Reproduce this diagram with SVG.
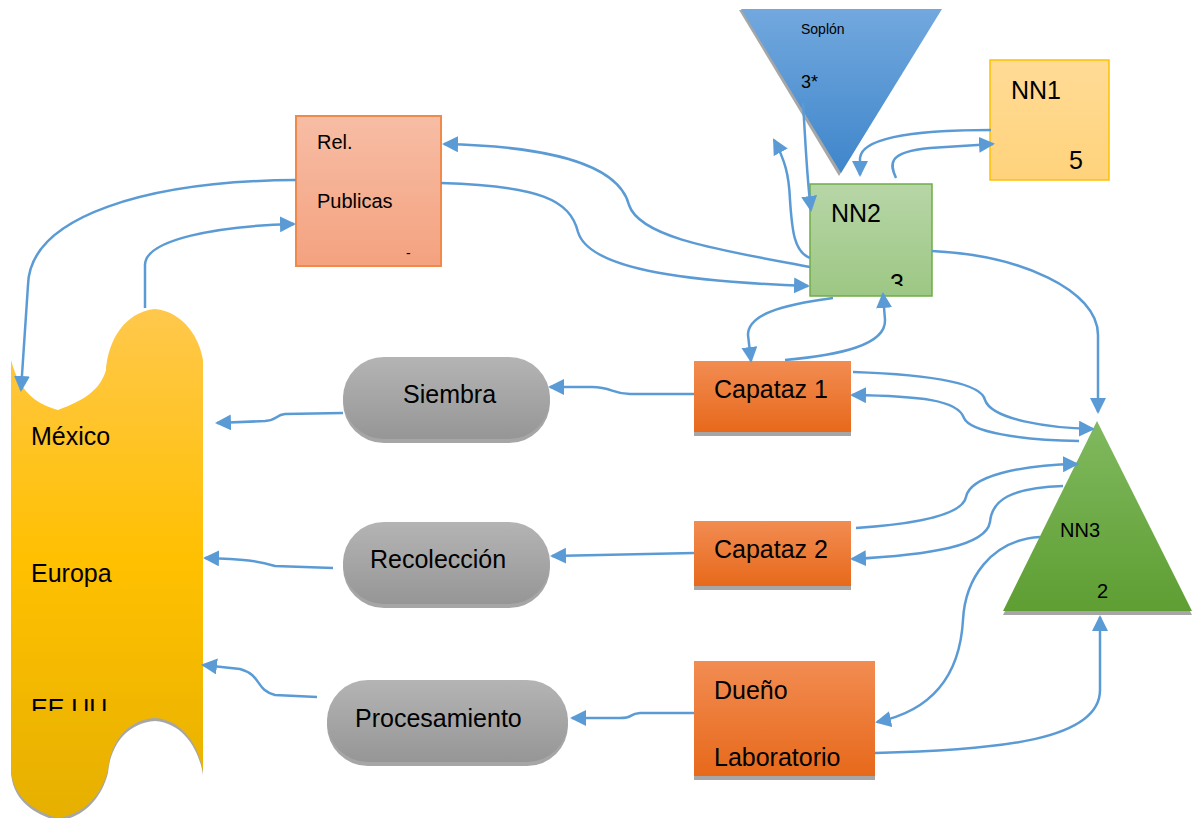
<svg xmlns="http://www.w3.org/2000/svg" width="1193" height="818" viewBox="0 0 1193 818">
  <style>
    text { font-family: "Liberation Sans", Arial, sans-serif; fill: #000; }
    .lbl { font-size: 25px; }
    .mid { font-size: 20px; }
    .sm { font-size: 14px; }
    .link { fill: none; stroke: #5b9bd5; stroke-width: 2.5; marker-end: url(#arrow); }
    .shadow { fill: #a6a6a6; }
  </style>
  <defs>
    <marker id="arrow" markerUnits="userSpaceOnUse" markerWidth="18" markerHeight="18" refX="14" refY="8" orient="auto">
      <path d="M0,0 L16,8 L0,16 z" fill="#5b9bd5"/>
    </marker>
    <linearGradient id="gSoplon" x1="0" y1="0" x2="0" y2="1">
      <stop offset="0" stop-color="#72a8de"/>
      <stop offset="1" stop-color="#3f86cb"/>
    </linearGradient>
    <linearGradient id="gNN1" x1="0" y1="0" x2="0" y2="1">
      <stop offset="0" stop-color="#ffdb96"/>
      <stop offset="1" stop-color="#ffd37c"/>
    </linearGradient>
    <linearGradient id="gNN2" x1="0" y1="0" x2="0" y2="1">
      <stop offset="0" stop-color="#b7d6a7"/>
      <stop offset="1" stop-color="#9dc784"/>
    </linearGradient>
    <linearGradient id="gRel" x1="0" y1="0" x2="0" y2="1">
      <stop offset="0" stop-color="#f7bda5"/>
      <stop offset="1" stop-color="#f4a27f"/>
    </linearGradient>
    <linearGradient id="gOrange" x1="0" y1="0" x2="0" y2="1">
      <stop offset="0" stop-color="#f28c52"/>
      <stop offset="1" stop-color="#e7691b"/>
    </linearGradient>
    <linearGradient id="gGrey" x1="0" y1="0" x2="0" y2="1">
      <stop offset="0" stop-color="#b4b4b4"/>
      <stop offset="1" stop-color="#969696"/>
    </linearGradient>
    <linearGradient id="gYellow" x1="0" y1="0" x2="0" y2="1">
      <stop offset="0" stop-color="#ffc84c"/>
      <stop offset="0.5" stop-color="#ffc000"/>
      <stop offset="1" stop-color="#e6b000"/>
    </linearGradient>
    <linearGradient id="gNN3" x1="0" y1="0" x2="0" y2="1">
      <stop offset="0" stop-color="#80b95f"/>
      <stop offset="1" stop-color="#5e9e32"/>
    </linearGradient>
    <clipPath id="clipNN2"><rect x="810" y="184" width="122" height="102"/></clipPath>
    <clipPath id="clipEEUU"><rect x="0" y="600" width="210" height="111"/></clipPath>
  </defs>

  <!-- Markets banner -->
  <g id="mercados">
    <path class="shadow" d="M11,363 C20,398 40,408 58,413 C85,403 100,393 106,373 C108,343 125,315 155,312 C185,315 200,343 203,363 L203,775 C200,753 185,723 155,721 C125,723 110,748 108,773 C100,803 80,818 58,821 C30,813 13,798 11,773 Z"/>
    <path fill="url(#gYellow)" d="M11,360 C20,395 40,405 58,410 C85,400 100,390 106,370 C108,340 125,312 155,309 C185,312 200,340 203,360 L203,772 C200,750 185,720 155,718 C125,720 110,745 108,770 C100,800 80,815 58,818 C30,810 13,795 11,770 Z"/>
    <text class="lbl" x="31" y="445">México</text>
    <text class="lbl" x="31" y="582">Europa</text>
    <text class="lbl" x="31" y="717" clip-path="url(#clipEEUU)">EE.UU</text>
  </g>

  <g id="rel-publicas">
    <rect x="296" y="116" width="145" height="150" fill="url(#gRel)" stroke="#f08a4b" stroke-width="2"/>
    <text class="mid" x="317" y="149">Rel.</text>
    <text class="mid" x="317" y="208">Publicas</text>
    <text class="sm" x="406" y="258">-</text>
  </g>

  <g id="soplon">
    <polygon class="shadow" points="739,10 940,10 839,176"/>
    <polygon fill="url(#gSoplon)" points="741,9 942,9 841,173"/>
    <text class="sm" x="801" y="34">Soplón</text>
    <text x="801" y="88" font-size="18">3*</text>
  </g>

  <g id="nn1">
    <rect x="990" y="60" width="119" height="120" fill="url(#gNN1)" stroke="#ffc000" stroke-width="1.5"/>
    <text class="lbl" x="1011" y="99">NN1</text>
    <text class="lbl" x="1069" y="169">5</text>
  </g>

  <g id="nn2">
    <rect x="810" y="184" width="122" height="112" fill="url(#gNN2)" stroke="#70ad47" stroke-width="1.5"/>
    <text class="lbl" x="831" y="222">NN2</text>
    <text class="lbl" x="890" y="292" clip-path="url(#clipNN2)">3</text>
  </g>

  <g id="nn3">
    <polygon class="shadow" points="1097,425 1003,615 1192,615"/>
    <polygon fill="url(#gNN3)" points="1097,421 1003,611 1192,611"/>
    <text class="mid" x="1060" y="537">NN3</text>
    <text class="mid" x="1097" y="598">2</text>
  </g>

  <g id="capataz-1">
    <rect class="shadow" x="694" y="365" width="157" height="71"/>
    <rect x="694" y="361" width="157" height="71" fill="url(#gOrange)"/>
    <text class="lbl" x="714" y="398">Capataz 1</text>
  </g>

  <g id="capataz-2">
    <rect class="shadow" x="694" y="525" width="157" height="65"/>
    <rect x="694" y="521" width="157" height="65" fill="url(#gOrange)"/>
    <text class="lbl" x="714" y="558">Capataz 2</text>
  </g>

  <g id="dueno-laboratorio">
    <rect class="shadow" x="694" y="665" width="181" height="115"/>
    <rect x="694" y="661" width="181" height="115" fill="url(#gOrange)"/>
    <text class="lbl" x="714" y="699">Dueño</text>
    <text class="lbl" x="714" y="766">Laboratorio</text>
  </g>

  <g id="siembra">
    <rect class="shadow" x="343" y="361" width="207" height="82" rx="41"/>
    <rect x="343" y="357" width="207" height="82" rx="41" fill="url(#gGrey)"/>
    <text class="lbl" x="403" y="403">Siembra</text>
  </g>

  <g id="recoleccion">
    <rect class="shadow" x="343" y="526" width="207" height="82" rx="41"/>
    <rect x="343" y="522" width="207" height="82" rx="41" fill="url(#gGrey)"/>
    <text class="lbl" x="370" y="568">Recolección</text>
  </g>

  <g id="procesamiento">
    <rect class="shadow" x="327" y="684" width="241" height="82" rx="41"/>
    <rect x="327" y="680" width="241" height="82" rx="41" fill="url(#gGrey)"/>
    <text class="lbl" x="355" y="727">Procesamiento</text>
  </g>

  <g id="connectors">
    <!-- Rel. Publicas <-> markets -->
    <path class="link" d="M296,180 C150,181 30,215 28,285 L21,390"/>
    <path class="link" d="M145,308 L145,265 C145,240 215,226 294,224"/>
    <!-- Rel. Publicas <-> NN2 -->
    <path class="link" d="M810,267 C720,250 640,238 629,205 C618,162 540,146 444,144"/>
    <path class="link" d="M441,183 C540,186 570,200 578,232 C590,272 700,282 808,286"/>
    <!-- Soplón / NN1 / NN2 -->
    <path class="link" d="M803,103 C806,150 807,180 811,210"/>
    <path class="link" d="M810,258 C794,252 792,230 790,200 C789,175 785,160 774,140"/>
    <path class="link" d="M991,130 C930,130 862,135 860,158 L860,175"/>
    <path class="link" d="M896,178 C890,165 886,152 930,148 L993,144"/>
    <!-- NN2 -> NN3 -->
    <path class="link" d="M932,251 C1020,255 1098,290 1098,335 L1098,412"/>
    <!-- NN2 <-> Capataz 1 -->
    <path class="link" d="M833,298 C780,305 748,315 748,335 L751,361"/>
    <path class="link" d="M785,360 C840,355 886,345 885,320 L883,294"/>
    <!-- Capataz 1 <-> NN3 -->
    <path class="link" d="M853,372 C940,375 982,385 985,400 C992,420 1050,428 1093,429"/>
    <path class="link" d="M1079,441 C1020,440 970,432 964,418 C958,400 920,396 852,395"/>
    <!-- Capataz 2 <-> NN3 -->
    <path class="link" d="M856,528 C930,523 963,512 966,497 C970,476 1020,465 1077,464"/>
    <path class="link" d="M1063,486 C1010,488 992,500 990,522 C986,546 930,555 852,559"/>
    <!-- NN3 <-> Dueño Laboratorio -->
    <path class="link" d="M1040,537 C990,540 965,580 963,620 C960,672 935,710 877,722"/>
    <path class="link" d="M875,753 C1000,750 1100,740 1100,690 L1100,617"/>
    <!-- production chain -->
    <path class="link" d="M694,394 L630,394 C612,394 612,387 592,387 L550,387"/>
    <path class="link" d="M343,413 L285,414 C275,415 278,420 265,421 L217,423"/>
    <path class="link" d="M694,553 L552,556"/>
    <path class="link" d="M333,568 L275,566 C258,561 245,559 205,558"/>
    <path class="link" d="M694,713 L640,713 C628,714 634,718 620,718 L572,718"/>
    <path class="link" d="M317,697 L275,695 C255,690 262,675 240,669 L203,665"/>
  </g>
</svg>
